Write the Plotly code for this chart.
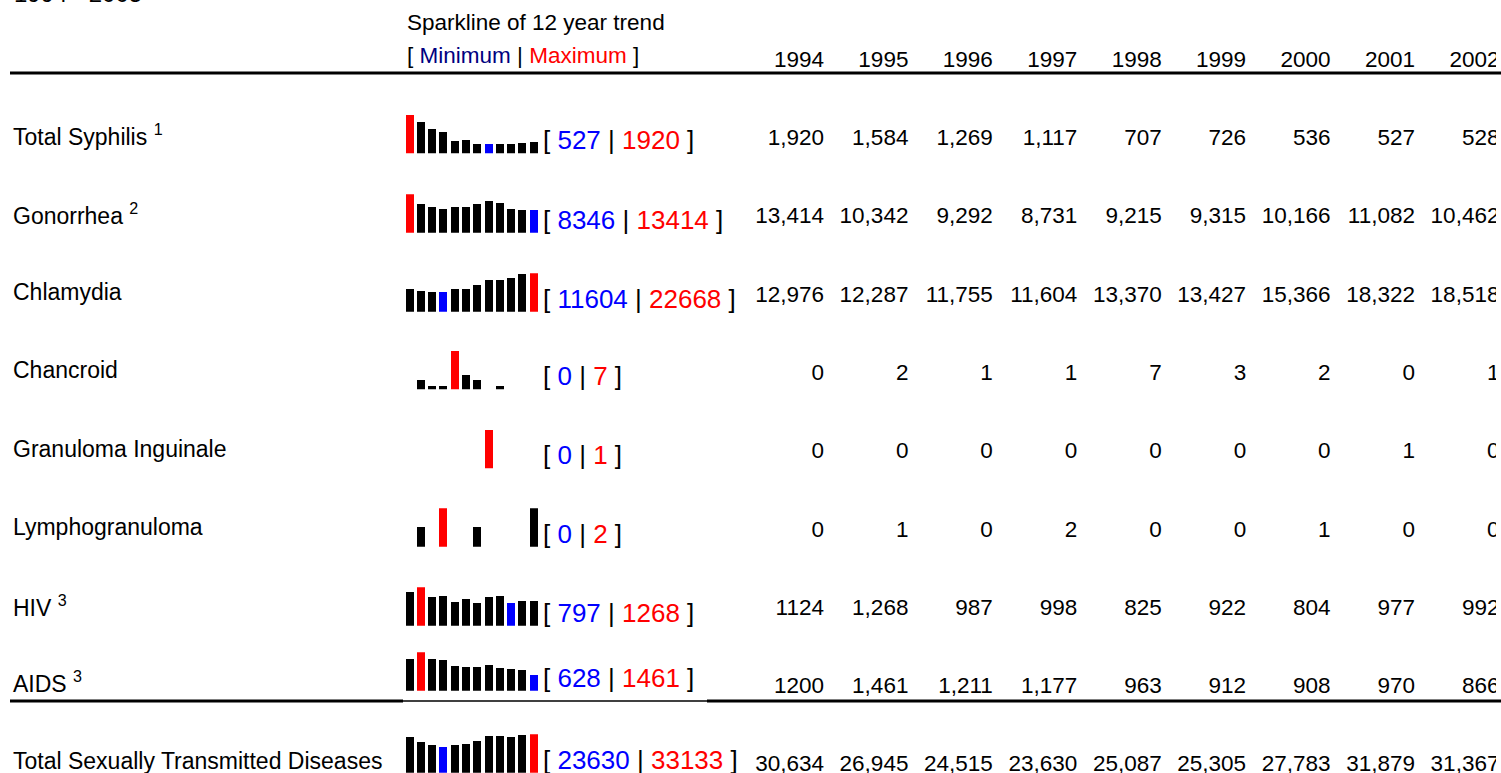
import plotly.graph_objects as go

# --- data -----------------------------------------------------------------
YEARS = list(range(1994, 2006))

DISEASES = ["Total Syphilis", "Gonorrhea", "Chlamydia", "Chancroid",
            "Granuloma Inguinale", "Lymphogranuloma", "HIV", "AIDS",
            "Total Sexually Transmitted Diseases"]
FOOTNOTES = ["1", "2", "", "", "", "", "3", "3", ""]

SYPHILIS = [1920, 1584, 1269, 1117, 707, 726, 536, 527, 528, 560, 610, 640]
GONORRHEA = [13414, 10342, 9292, 8731, 9215, 9315, 10166, 11082, 10462, 8720, 8420, 8346]
CHLAMYDIA = [12976, 12287, 11755, 11604, 13370, 13427, 15366, 18322, 18518, 19760, 21890, 22668]
CHANCROID = [0, 2, 1, 1, 7, 3, 2, 0, 1, 0, 0, 0]
GRANULOMA = [0, 0, 0, 0, 0, 0, 0, 1, 0, 0, 0, 0]
LYMPHOGRANULOMA = [0, 1, 0, 2, 0, 0, 1, 0, 0, 0, 0, 2]
HIV = [1124, 1268, 987, 998, 825, 922, 804, 977, 992, 797, 840, 849]
AIDS = [1200, 1461, 1211, 1177, 963, 912, 908, 970, 866, 850, 800, 628]
TOTAL = [30634, 26945, 24515, 23630, 25087, 25305, 27783, 31879, 31367, 30687, 32560, 33133]

SERIES = [SYPHILIS, GONORRHEA, CHLAMYDIA, CHANCROID, GRANULOMA,
          LYMPHOGRANULOMA, HIV, AIDS, TOTAL]

# cells printed without thousands separator in the source table
PLAIN_CELLS = {("HIV", 1994), ("AIDS", 1994)}

# --- layout constants (pixels) --------------------------------------------
W, H = 1501, 773
FONT = "Liberation Sans, Arial, sans-serif"
BLUE, RED, NAVY = "#0000FF", "#FF0000", "#000080"

ROW0, ROW_PITCH = 139.4, 78.3          # pixel anchor of first data row
COL0, COL_PITCH = 824, 84.43           # right edge of 1994 column
CLIP_RIGHT = 1496
LABEL_DY = [4, 4, 4, 4, 4, 4, 3, 6, 5]

SPARK_X0, SPARK_X1 = 404.4, 539.6
SPARK_BOTTOM = [153.3, 232.7, 311.7, 389.3, 468.3, 546.7, 625.7, 690.7, 772.7]
SPARK_H = 38.5
SPARK_FLOOR = [95, 1150, 0, 0.45, 0, 0, 130, 52, 4095]


def px_x(p):
    return p / W


def px_y(p):
    return 1 - p / H


fig = go.Figure()

# table numbers + year header
xs, ys, texts = [], [], []
for yr in YEARS:
    xs.append(yr)
    ys.append(-1)
    texts.append(str(yr))
for i, (name, vals) in enumerate(zip(DISEASES, SERIES)):
    for yr, v in zip(YEARS, vals):
        xs.append(yr)
        ys.append(i)
        texts.append(str(v) if (name, yr) in PLAIN_CELLS else f"{v:,}")

fig.add_trace(go.Scatter(
    x=xs, y=ys, text=texts, mode="text",
    textposition="middle left",
    textfont=dict(size=22.5, color="black", family=FONT),
    cliponaxis=True, hoverinfo="skip", showlegend=False,
))

# sparklines, one small subplot per row
layout_axes = {}
annotations = []
for i, (name, vals) in enumerate(zip(DISEASES, SERIES)):
    k = i + 2
    vmax, vmin = max(vals), min(vals)
    imax, imin = vals.index(vmax), vals.index(vmin)
    colors = ["black"] * len(vals)
    colors[imin] = BLUE
    colors[imax] = RED
    fig.add_trace(go.Bar(
        x=YEARS, y=vals, marker=dict(color=colors, line=dict(width=0)),
        width=0.71, xaxis=f"x{k}", yaxis=f"y{k}",
        hoverinfo="skip", showlegend=False,
    ))
    b = SPARK_BOTTOM[i]
    layout_axes[f"xaxis{k}"] = dict(
        domain=[px_x(SPARK_X0), px_x(SPARK_X1)], range=[1993.5, 2005.5],
        visible=False, anchor=f"y{k}", fixedrange=True)
    layout_axes[f"yaxis{k}"] = dict(
        domain=[max(0, px_y(b)), px_y(b - SPARK_H)],
        range=[SPARK_FLOOR[i], vmax], visible=False,
        anchor=f"x{k}", fixedrange=True)

    annotations.append(dict(
        xref=f"x{k} domain", yref=f"y{k} domain", x=1, y=0,
        xanchor="left", yanchor="middle", xshift=1, yshift=13,
        showarrow=False, font=dict(size=26, color="black", family=FONT),
        text=(f"[ <span style='color:{BLUE}'>{vmin}</span> | "
              f"<span style='color:{RED}'>{vmax}</span> ]"),
    ))

    label = name + (f" <sup>{FOOTNOTES[i]}</sup>" if FOOTNOTES[i] else "")
    annotations.append(dict(
        xref="paper", yref="y", x=px_x(11), y=i, yshift=LABEL_DY[i],
        xanchor="left", yanchor="middle", showarrow=False,
        font=dict(size=23, color="black", family=FONT), text=label,
    ))

# headers
annotations += [
    dict(xref="paper", yref="paper", x=px_x(12), y=px_y(-7),
         xanchor="left", yanchor="middle", showarrow=False,
         font=dict(size=24, color="black", family=FONT), text="1994 - 2005"),
    dict(xref="paper", yref="paper", x=px_x(405), y=px_y(23),
         xanchor="left", yanchor="middle", showarrow=False,
         font=dict(size=22.5, color="black", family=FONT),
         text="Sparkline of 12 year trend"),
    dict(xref="paper", yref="paper", x=px_x(405), y=px_y(56),
         xanchor="left", yanchor="middle", showarrow=False,
         font=dict(size=22.5, color="black", family=FONT),
         text=(f"[ <span style='color:{NAVY}'>Minimum</span> | "
               f"<span style='color:{RED}'>Maximum</span> ]")),
]

# table rules
shapes = [
    dict(type="line", xref="paper", yref="paper", x0=px_x(10), x1=1,
         y0=px_y(73), y1=px_y(73), line=dict(color="black", width=3)),
    dict(type="line", xref="paper", yref="paper", x0=px_x(10), x1=px_x(403),
         y0=px_y(701), y1=px_y(701), line=dict(color="black", width=3)),
    dict(type="line", xref="paper", yref="paper", x0=px_x(403), x1=px_x(707),
         y0=px_y(701), y1=px_y(701), line=dict(color="black", width=1.5)),
    dict(type="line", xref="paper", yref="paper", x0=px_x(707), x1=1,
         y0=px_y(701), y1=px_y(701), line=dict(color="black", width=3)),
]

# main table axis: years across, row index down
x_left = 1994 - COL0 / COL_PITCH
x_right = 1994 + (CLIP_RIGHT - COL0) / COL_PITCH
y_top = -ROW0 / ROW_PITCH
y_bottom = (H - ROW0) / ROW_PITCH

fig.update_layout(
    width=W, height=H,
    margin=dict(l=0, r=0, t=0, b=0),
    paper_bgcolor="white", plot_bgcolor="rgba(0,0,0,0)",
    font=dict(family=FONT),
    xaxis=dict(domain=[0, CLIP_RIGHT / W], range=[x_left, x_right],
               visible=False, fixedrange=True),
    yaxis=dict(domain=[0, 1], range=[y_bottom, y_top],
               visible=False, fixedrange=True),
    bargap=0,
    showlegend=False,
    annotations=annotations,
    shapes=shapes,
    **layout_axes,
)

fig.write_html(
    "out.html",
    config={"displayModeBar": False},
    post_script="document.body.style.margin='0';document.body.style.overflow='hidden';",
)
